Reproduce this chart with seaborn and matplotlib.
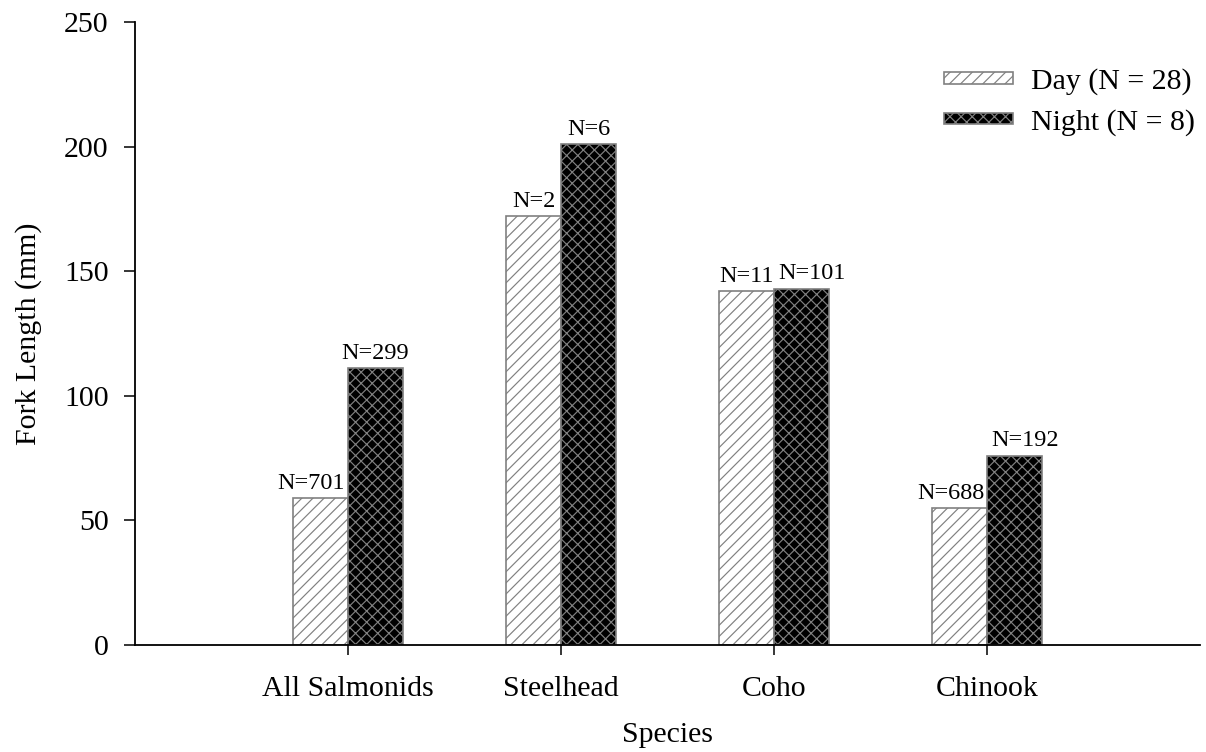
import matplotlib
matplotlib.use("Agg")
import matplotlib.pyplot as plt
from matplotlib.patches import Patch
import numpy as np
import pandas as pd
import seaborn as sns

# Mean fork length by species and sampling period
species = ["All Salmonids", "Steelhead", "Coho", "Chinook"]
day_length = [59, 172, 142, 55]
night_length = [111, 201, 143, 76]
day_n = [701, 2, 11, 688]
night_n = [299, 6, 101, 192]
periods = ["Day", "Night"]
legend_labels = ["Day (N = 28)", "Night (N = 8)"]

df = pd.DataFrame({
    "Species": species * 2,
    "Length": day_length + night_length,
    "Period": [periods[0]] * len(species) + [periods[1]] * len(species),
})

sns.set_theme(style="ticks")
plt.rcParams["font.family"] = ["Liberation Serif", "DejaVu Serif"]
plt.rcParams["hatch.linewidth"] = 0.85
plt.rcParams["text.color"] = "black"
plt.rcParams["axes.labelcolor"] = "black"
plt.rcParams["xtick.color"] = "black"
plt.rcParams["ytick.color"] = "black"

fig = plt.figure(figsize=(12.06, 7.52), dpi=100)
ax = fig.add_axes([0.1119, 0.1423, 0.8831, 0.8284])

edge = "#808080"
sns.barplot(
    data=df, x="Species", y="Length", hue="Period",
    palette={"Day": "white", "Night": "black"},
    width=0.516, dodge=True, edgecolor=edge, linewidth=1.2,
    legend=False, ax=ax,
)

hatches = ["///", "xxx"]
for cont, h in zip(ax.containers, hatches):
    for bar in cont:
        bar.set_hatch(h)
        bar.set_edgecolor(edge)

# sample-size labels; wide labels are nudged away from the neighbouring bar
label_align = [["right", "center", "center", "right"],
               ["center", "center", "left", "left"]]
for cont, ns, aligns in zip(ax.containers, [day_n, night_n], label_align):
    for bar, n, ha in zip(cont, ns, aligns):
        x0, w, h = bar.get_x(), bar.get_width(), bar.get_height()
        if ha == "right":
            xa, dx = x0 + w, -2
        elif ha == "left":
            xa, dx = x0, 3
        else:
            xa, dx = x0 + w / 2, 0
        ax.annotate(f"N={n}", (xa, h), xytext=(dx, 3),
                    textcoords="offset points", ha=ha, va="bottom",
                    fontsize=17.5)

ax.set_xlim(-1.0, 4.0)
ax.set_ylim(0, 250)
ax.set_yticks(np.arange(0, 251, 50))

sns.despine(ax=ax)
for side in ["left", "bottom"]:
    ax.spines[side].set_linewidth(1.3)
    ax.spines[side].set_color("black")

ax.tick_params(axis="y", direction="out", length=8, width=1.1, pad=11,
               labelsize=21.5)
ax.tick_params(axis="x", direction="out", length=7, width=1.1, pad=15,
               labelsize=21.5)

ax.set_ylabel("Fork Length (mm)", fontsize=21.5, labelpad=16)
ax.set_xlabel("Species", fontsize=21.5, labelpad=15)

handles = [
    Patch(facecolor="white", edgecolor=edge, hatch="///", linewidth=1.2),
    Patch(facecolor="black", edgecolor=edge, hatch="xxx", linewidth=1.2),
]
ax.legend(handles, legend_labels, loc="upper right",
          bbox_to_anchor=(1.008, 0.937), bbox_transform=fig.transFigure,
          frameon=False, fontsize=21.5, handlelength=2.3, handleheight=0.22,
          handletextpad=0.6, labelspacing=0.45, borderaxespad=0.3)

fig.savefig("out.png", dpi=100, facecolor="white")
